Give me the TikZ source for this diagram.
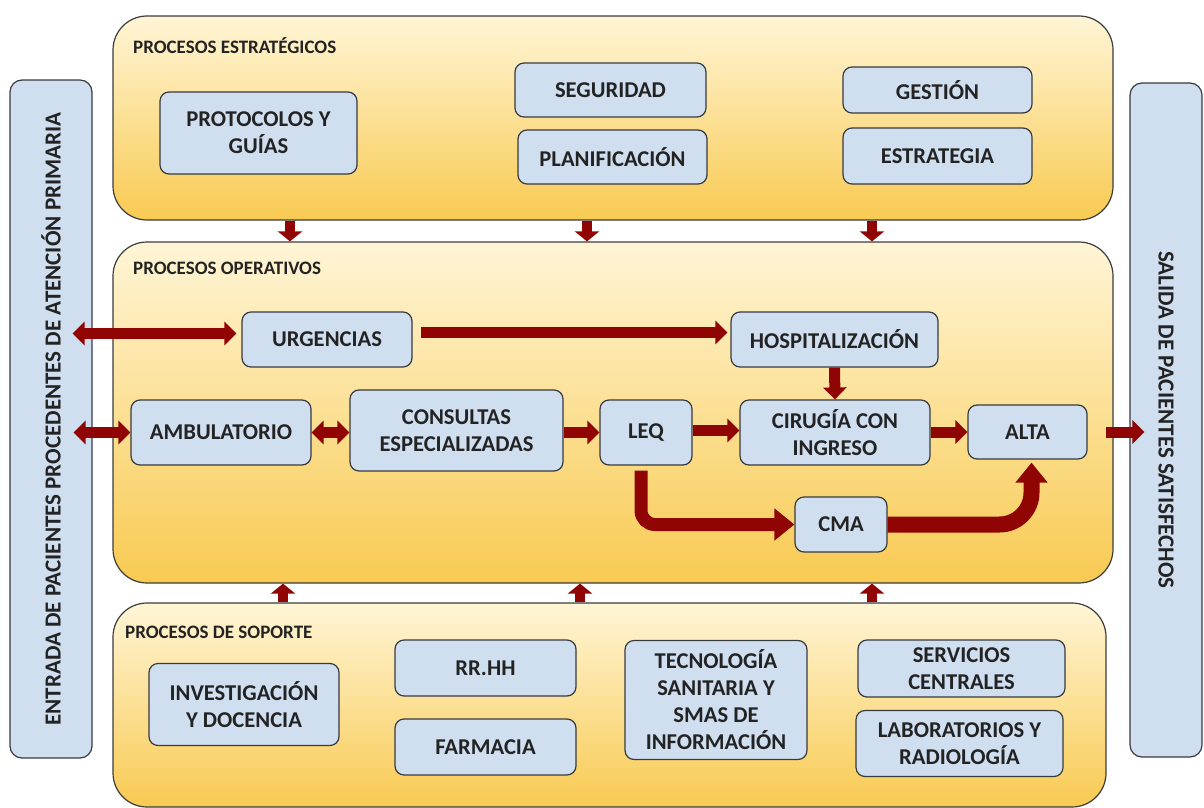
\documentclass[tikz,border=0pt]{standalone}
\usepackage{fontspec}
\setmainfont{Carlito}
\usepackage{tikz}
\usetikzlibrary{arrows.meta}
\definecolor{azulcaja}{RGB}{208,223,240}
\definecolor{bordecaja}{RGB}{55,58,62}
\definecolor{bordegrupo}{RGB}{60,60,60}
\definecolor{grupoarriba}{RGB}{255,245,214}
\definecolor{grupoabajo}{RGB}{248,202,82}
\definecolor{rojo}{RGB}{145,4,4}
\definecolor{texto}{RGB}{35,35,35}

\begin{document}
\begin{tikzpicture}[x=1pt,y=1pt,yscale=-1,xscale=1,
  caja/.style={draw=bordecaja, fill=azulcaja, line width=1.2pt, rounded corners=9pt, align=center, inner sep=0pt, text=texto, font=\bfseries\fontsize{22.6}{27}\selectfont},
  grupo/.style={draw=bordegrupo, line width=1.2pt, rounded corners=34pt, top color=grupoarriba, bottom color=grupoabajo, inner sep=0pt},
  titulo/.style={anchor=west, inner sep=0pt, text=texto, font=\bfseries\fontsize{19}{22}\selectfont},
  lateral/.style={draw=bordecaja, fill=azulcaja, line width=1.2pt, rounded corners=12pt, inner sep=0pt, text=texto, font=\bfseries\fontsize{23}{26}\selectfont},
  flecha/.style={draw=rojo, line width=11pt, -{Triangle[length=12pt,width=23pt]}},
  flechad/.style={draw=rojo, line width=11pt, {Triangle[length=12pt,width=23pt]}-{Triangle[length=12pt,width=23pt]}},
  flechita/.style={draw=rojo, line width=10pt, -{Triangle[length=10pt,width=24pt]}},
  flechagorda/.style={draw=rojo, line width=15pt, -{Triangle[length=20pt,width=31pt]}}
]
\useasboundingbox (0,0) rectangle (1204,808);

% paneles laterales
\draw (51,419) node [lateral, rotate=90, minimum width=678pt, minimum height=82pt] (entrada) {ENTRADA DE PACIENTES PROCEDENTES DE ATENCIÓN PRIMARIA};
\draw (1166,420) node [lateral, rotate=-90, minimum width=674pt, minimum height=72pt] (salida) {SALIDA DE PACIENTES SATISFECHOS};

% grupos
\draw (613,118) node [grupo, minimum width=1000pt, minimum height=204pt] (estr) {};
\draw (613,412.5) node [grupo, minimum width=1000pt, minimum height=341pt] (oper) {};
\draw (609.5,705) node [grupo, minimum width=993pt, minimum height=204pt] (sop) {};
\draw (133,46) node [titulo] (testr) {PROCESOS ESTRATÉGICOS};
\draw (133,268) node [titulo] (toper) {PROCESOS OPERATIVOS};
\draw (125,632) node [titulo] (tsop) {PROCESOS DE SOPORTE};

% estrategicos
\draw (258.5,133) node [caja, minimum width=197pt, minimum height=82pt] (prot) {PROTOCOLOS Y\\GUÍAS};
\draw (610.5,90) node [caja, minimum width=191pt, minimum height=54pt] (seg) {SEGURIDAD};
\draw (612.5,157) node [caja, minimum width=189pt, minimum height=54pt] (plan) {PLANIFICACIÓN};
\draw (937.5,90) node [caja, minimum width=189pt, minimum height=46pt] (gest) {GESTIÓN};
\draw (937.5,156) node [caja, minimum width=189pt, minimum height=56pt] (estrat) {ESTRATEGIA};

% operativos
\draw (327,339.5) node [caja, minimum width=170pt, minimum height=55pt] (urg) {URGENCIAS};
\draw (834.5,339.5) node [caja, minimum width=207pt, minimum height=55pt] (hosp) {HOSPITALIZACIÓN};
\draw (221,432.5) node [caja, minimum width=180pt, minimum height=65pt] (amb) {AMBULATORIO};
\draw (456.5,430.5) node [caja, minimum width=213pt, minimum height=81pt] (cons) {CONSULTAS\\ESPECIALIZADAS};
\draw (646,432.5) node [caja, minimum width=92pt, minimum height=65pt] (leq) {LEQ};
\draw (835,432.5) node [caja, minimum width=190pt, minimum height=65pt] (cir) {CIRUGÍA CON\\INGRESO};
\draw (1027.5,432) node [caja, minimum width=119pt, minimum height=54pt] (alta) {ALTA};
\draw (841,524.5) node [caja, minimum width=92pt, minimum height=55pt] (cma) {CMA};

% soporte
\draw (244,704.5) node [caja, minimum width=190pt, minimum height=82pt] (inv) {INVESTIGACIÓN\\Y DOCENCIA};
\draw (485.5,668) node [caja, minimum width=181pt, minimum height=56pt] (rrhh) {RR.HH};
\draw (485.5,747) node [caja, minimum width=181pt, minimum height=56pt] (farm) {FARMACIA};
\draw (716,700) node [caja, minimum width=182pt, minimum height=119pt] (tec) {TECNOLOGÍA\\SANITARIA Y\\SMAS DE\\INFORMACIÓN};
\draw (961.5,668.5) node [caja, minimum width=207pt, minimum height=57pt] (serv) {SERVICIOS\\CENTRALES};
\draw (959.5,743.5) node [caja, minimum width=207pt, minimum height=66pt] (lab) {LABORATORIOS Y\\RADIOLOGÍA};

% flechas entre grupos
\coordinate (c1) at (290,0);
\coordinate (c2) at (587,0);
\coordinate (c3) at (872,0);
\coordinate (c4) at (283,0);
\coordinate (c5) at (580,0);
\draw [flechita] (estr.south -| c1) -- (oper.north -| c1);
\draw [flechita] (estr.south -| c2) -- (oper.north -| c2);
\draw [flechita] (estr.south -| c3) -- (oper.north -| c3);
\draw [flechita] (sop.north -| c4) -- (oper.south -| c4);
\draw [flechita] (sop.north -| c5) -- (oper.south -| c5);
\draw [flechita] (sop.north -| c3) -- (oper.south -| c3);

% flujo operativo
\draw [flechad] ([xshift=-20pt,yshift=-6pt]entrada.south |- urg) -- ([xshift=-5pt,yshift=-6pt]urg.west);
\draw [flechad] ([xshift=-19pt]entrada.south |- amb) -- (amb.west);
\draw [flecha] ([xshift=8pt,yshift=-7pt]urg.east) -- ([xshift=-3pt,yshift=-7pt]urg.east -| hosp.west);
\draw [flechad] (amb.east) -- (amb.east -| cons.west);
\draw [flecha] (cons.east |- leq) -- (leq.west);
\draw [flecha] ([yshift=-2pt]leq.east) -- ([yshift=-2pt]leq.east -| cir.west);
\draw [flecha] (hosp.south) -- (cir.north);
\draw [flecha] (cir.east |- alta) -- (alta.west);
\draw [flecha] ([xshift=-8pt]oper.east |- alta) -- ([xshift=15pt]salida.south |- alta);
\draw [flechagorda, line width=13pt, rounded corners=14pt] ([xshift=-5pt,yshift=5pt]leq.south) |- (cma.west);
\draw [flechagorda, line width=16pt, rounded corners=32pt] (cma.east) -| ([xshift=4pt,yshift=3pt]alta.south);
\end{tikzpicture}
\end{document}
